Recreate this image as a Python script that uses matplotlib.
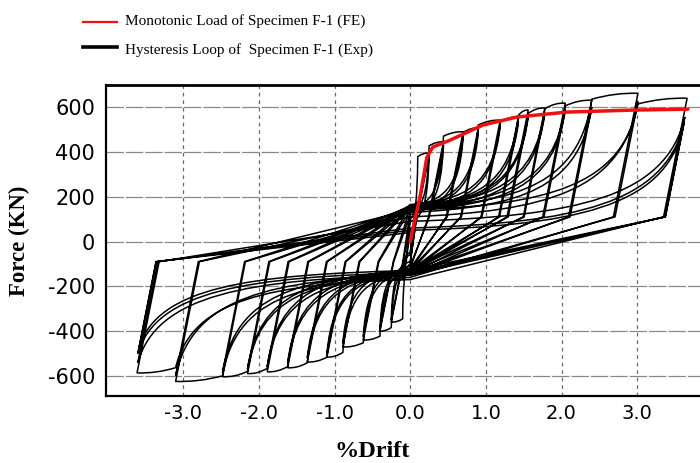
import numpy as np
import matplotlib
matplotlib.use('Agg')
import matplotlib.pyplot as plt
from matplotlib.path import Path
from matplotlib.patches import PathPatch
from matplotlib.lines import Line2D

# ---------------- data ----------------
# Monotonic FE curve (red)
fe_drift = [0.0, 0.07, 0.13, 0.22, 0.26, 0.30, 0.53, 0.96, 1.41, 2.07, 2.95, 3.67]
fe_force = [0, 110, 200, 375, 400, 422, 453, 520, 556, 578, 587, 591]

# Hysteresis cycles (experiment): peak drift / force for each cycle
cyc_pos_drift = [0.10, 0.10, 0.25, 0.25, 0.44, 0.44, 0.70, 0.70, 0.90, 0.90, 1.19, 1.19,
                 1.43, 1.43, 1.56, 1.56, 1.78, 1.78, 2.05, 2.05, 2.40, 2.40, 3.01, 3.01,
                 3.66, 3.63, 3.62, 3.60]
cyc_pos_force = [180, 175, 395, 385, 445, 430, 490, 470, 507, 490, 542, 520,
                 556, 535, 587, 560, 596, 575, 618, 590, 631, 600, 662, 625,
                 640, 556, 530, 500]
cyc_neg_drift = [-0.10, -0.10, -0.25, -0.25, -0.40, -0.40, -0.62, -0.62, -0.89, -0.89, -1.10, -1.10,
                 -1.36, -1.36, -1.62, -1.62, -1.89, -1.89, -2.15, -2.15, -2.48, -2.48, -3.10, -3.10,
                 -3.61, -3.60, -3.60, -3.58]
cyc_neg_force = [-170, -165, -360, -350, -400, -390, -440, -425, -471, -455, -516, -500,
                 -538, -520, -564, -545, -582, -560, -590, -570, -604, -585, -625, -600,
                 -587, -542, -500, -470]
# pinching forces at zero drift (positive-going / negative-going branches)
pinch_up = [60, 50, 100, 90, 130, 120, 150, 140, 160, 150, 160, 150,
            165, 150, 160, 150, 160, 145, 160, 140, 155, 130, 150, 110,
            140, 90, 60, 50]
pinch_dn = [-60, -50, -100, -90, -120, -110, -130, -120, -135, -125, -140, -130,
            -140, -130, -140, -130, -145, -130, -150, -135, -150, -140, -160, -150,
            -170, -150, -140, -130]
knee_up = -90      # force at end of elastic unloading from a negative peak
knee_dn = 110      # force at end of elastic unloading from a positive peak
stiff = 1700.0     # elastic unloading stiffness (kN per % drift)

x_ticks = [-3.0, -2.0, -1.0, 0.0, 1.0, 2.0, 3.0]
y_ticks = [-600, -400, -200, 0, 200, 400, 600]

# ---------------- figure ----------------
fig = plt.figure(figsize=(7.0, 4.63), dpi=100)
ax = fig.add_axes([106/700, (463-396)/463, (700-106)/700, (396-85)/463])
ax.set_xlim(-4.02, 3.83)
ax.set_ylim(-690, 699)


def reload_branch(c, xm, peak):
    """vertices/codes from pinch point c to peak, reaching envelope near xm."""
    dp, fp = peak
    pu = c[1]
    v, k = [], []
    first = abs(xm) < abs(dp) - 1e-6
    fq = fp * 0.96 if first else fp
    q = (xm, fq) if first else (dp, fp)
    v += [(0.6 * q[0], pu + 0.05 * (fq - pu)),
          (0.93 * q[0], pu + 0.22 * (fq - pu)),
          q]
    k += [Path.CURVE4] * 3
    if first:
        v += [(xm + 0.5 * (dp - xm), fp * 1.005), (dp, fp)]
        k += [Path.CURVE3] * 2
    return v, k


verts = [(0.0, 0.0)]
codes = [Path.MOVETO]
n = len(cyc_pos_drift)
prev_neg = None
for i in range(n):
    dp, fp = cyc_pos_drift[i], cyc_pos_force[i]
    dn, fn = cyc_neg_drift[i], cyc_neg_force[i]
    pu, pd = pinch_up[i], pinch_dn[i]
    xm_p = max(cyc_pos_drift[:i]) if i > 0 else dp
    xm_n = min(cyc_neg_drift[:i]) if i > 0 else dn
    # positive-going branch
    if prev_neg is None:
        verts += [(0.6 * dp, 0.6 * fp), (dp, fp)]
        codes += [Path.LINETO, Path.LINETO]
    else:
        pdn, pfn = prev_neg
        bx = pdn + (knee_up - pfn) / stiff
        verts += [(bx, knee_up), (0.0, pu)]
        codes += [Path.LINETO, Path.LINETO]
        v, k = reload_branch((0.0, pu), xm_p, (dp, fp))
        verts += v
        codes += k
    # negative-going branch
    bx = dp - (fp - knee_dn) / stiff
    verts += [(bx, knee_dn), (0.0, pd)]
    codes += [Path.LINETO, Path.LINETO]
    v, k = reload_branch((0.0, pd), xm_n, (dn, fn))
    verts += v
    codes += k
    prev_neg = (dn, fn)

# final unloading
pdn, pfn = prev_neg
verts += [(pdn + (knee_up - pfn) / stiff, knee_up), (0.0, 40)]
codes += [Path.LINETO, Path.LINETO]

hyst = PathPatch(Path(verts, codes), facecolor='none', edgecolor='black',
                 lw=1.1, zorder=3)
ax.add_patch(hyst)

ax.plot(fe_drift, fe_force, color='#ee1111', lw=2.5, zorder=4, solid_capstyle='round')

# grid
for yv in y_ticks:
    ax.axhline(yv, color='#888888', lw=0.9, ls=(0, (14, 1.5)), zorder=1)
for xv in x_ticks:
    ax.axvline(xv, color='#6a6a6a', lw=0.9, ls=(0, (3, 3)), zorder=1)

ax.set_xticks(x_ticks)
ax.set_xticklabels(['%.1f' % v for v in x_ticks])
ax.set_yticks(y_ticks)
ax.set_yticklabels([str(v) for v in y_ticks])
ax.tick_params(length=0)
ax.tick_params(axis='y', labelsize=15, pad=8)
ax.tick_params(axis='x', labelsize=14, pad=6)
for lab in ax.get_xticklabels() + ax.get_yticklabels():
    lab.set_family('DejaVu Sans')

for s in ['left', 'bottom']:
    ax.spines[s].set_linewidth(1.6)
ax.spines['top'].set_linewidth(2.0)
ax.spines['right'].set_visible(False)

ax.set_xlabel('%Drift', family='Liberation Serif', weight='bold', fontsize=17.5)
ax.set_ylabel('Force (KN)', family='Liberation Serif', weight='bold', fontsize=16.5)
ax.xaxis.set_label_coords((372 - 106) / 594, (396 - 441) / 311)
ax.yaxis.set_label_coords((30 - 106) / 594, (396 - 241) / 311)

# legend
fig.add_artist(Line2D([83/700, 117/700], [1 - 22/463, 1 - 22/463], color='#ee1111', lw=1.6))
fig.add_artist(Line2D([83/700, 117/700], [1 - 47/463, 1 - 47/463], color='black', lw=2.6))
fig.text(125/700, 1 - 21/463, 'Monotonic Load of Specimen F-1 (FE)',
         family='Liberation Serif', fontsize=11, va='center', ha='left')
fig.text(125/700, 1 - 50/463, 'Hysteresis Loop of  Specimen F-1 (Exp)',
         family='Liberation Serif', fontsize=11, va='center', ha='left')

fig.savefig('out.png', dpi=100)
